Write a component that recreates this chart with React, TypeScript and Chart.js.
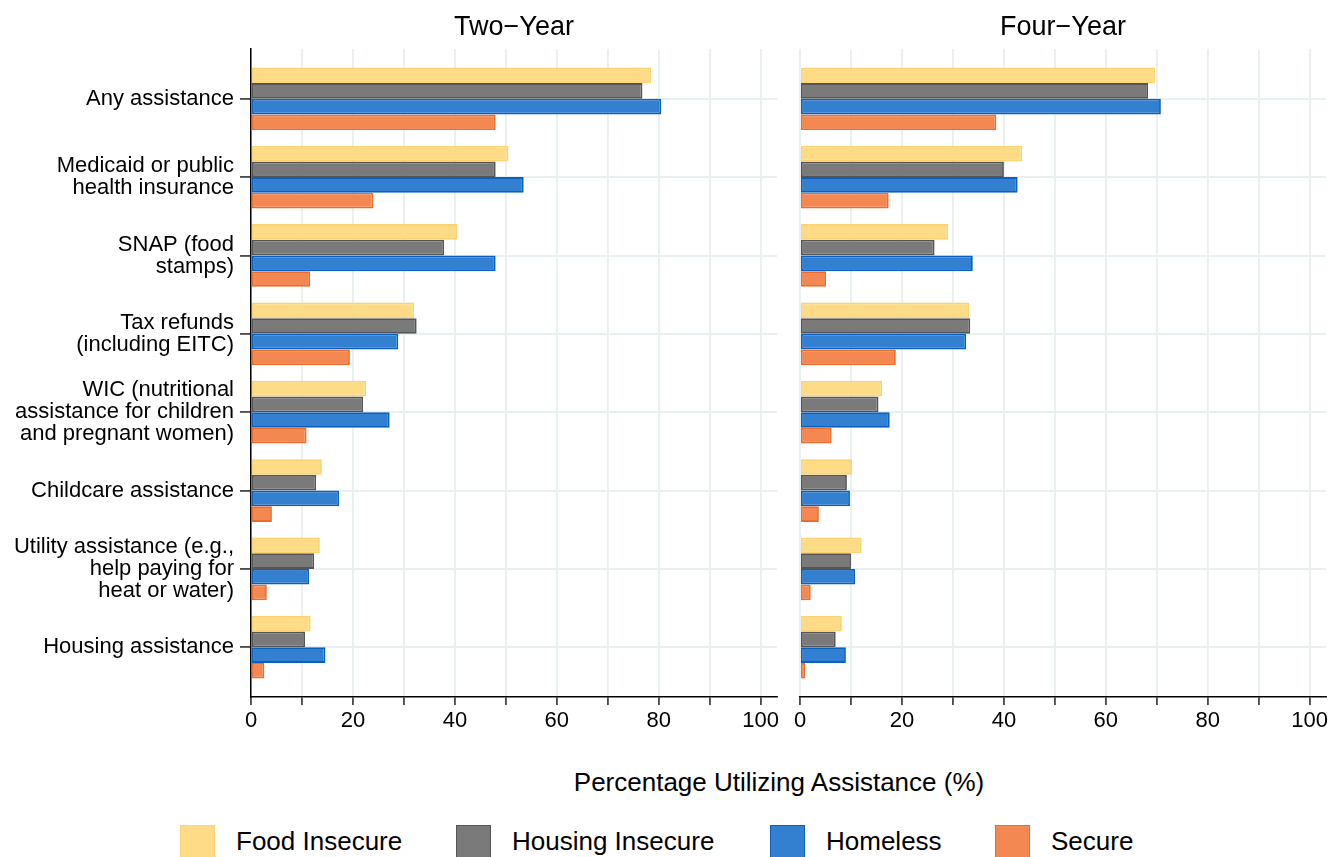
import React, { useEffect, useRef } from "react";
import { Chart, registerables } from "chart.js";

Chart.register(...registerables);

const FONT = '"Liberation Sans", Arial, Helvetica, sans-serif';

const categories: (string | string[])[] = [
  "Any assistance",
  ["Medicaid or public", "health insurance"],
  ["SNAP (food", "stamps)"],
  ["Tax refunds", "(including EITC)"],
  ["WIC (nutritional", "assistance for children", "and pregnant women)"],
  "Childcare assistance",
  ["Utility assistance (e.g.,", "help paying for", "heat or water)"],
  "Housing assistance",
];

const seriesNames = ["Food Insecure", "Housing Insecure", "Homeless", "Secure"];
const seriesFill = ["#FEDB86", "#7A7A7A", "#3380D0", "#F48853"];
const seriesBorder = ["#FCD272", "#555555", "#0A5FC2", "#EF6B2B"];

const twoYearFood = [78.5, 50.5, 40.5, 32.0, 22.6, 13.9, 13.5, 11.7];
const twoYearHousing = [76.8, 48.0, 37.9, 32.5, 22.0, 12.8, 12.4, 10.6];
const twoYearHomeless = [80.5, 53.5, 48.0, 28.9, 27.2, 17.3, 11.4, 14.6];
const twoYearSecure = [48.0, 24.0, 11.6, 19.4, 10.9, 4.1, 3.1, 2.6];

const fourYearFood = [69.7, 43.6, 29.1, 33.2, 16.1, 10.2, 12.1, 8.2];
const fourYearHousing = [68.3, 40.0, 26.4, 33.4, 15.4, 9.2, 10.0, 7.0];
const fourYearHomeless = [70.8, 42.7, 33.9, 32.6, 17.6, 9.8, 10.8, 9.0];
const fourYearSecure = [38.5, 17.4, 5.1, 18.8, 6.2, 3.7, 2.1, 1.0];

const xTickValues = [0, 10, 20, 30, 40, 50, 60, 70, 80, 90, 100];
const xLabelStep = 20;
const xAxisTitle = "Percentage Utilizing Assistance (%)";
const panelTitles = ["Two\u2212Year", "Four\u2212Year"];

const GRID = "#E9F0F2";

function makeConfig(
  title: string,
  series: number[][],
  showLabels: boolean,
  yWidth: number,
  padRight: number
): any {
  return {
    type: "bar",
    data: {
      datasets: series.map((vals, si) => ({
        label: seriesNames[si],
        data: vals.map((v, i) => ({ x: v, y: i })),
        backgroundColor: seriesFill[si],
        borderColor: seriesBorder[si],
        borderWidth: 1.8,
        borderSkipped: false,
        categoryPercentage: 0.8,
        barPercentage: 1.0,
      })),
    },
    options: {
      indexAxis: "y",
      animation: false,
      responsive: false,
      maintainAspectRatio: false,
      layout: { padding: { left: 0, right: padRight, top: 0, bottom: 0 } },
      plugins: {
        legend: { display: false },
        tooltip: { enabled: false },
        title: {
          display: true,
          text: title,
          fullSize: false,
          color: "#000",
          font: { family: FONT, size: 27, weight: "normal", lineHeight: 1.2 },
          padding: { top: 11, bottom: 5.6 },
        },
      },
      scales: {
        x: {
          type: "linear",
          min: 0,
          max: 103.2,
          afterBuildTicks: (scale: any) => {
            scale.ticks = xTickValues.map((v) => ({ value: v }));
          },
          afterFit: (scale: any) => {
            scale.height = 48;
          },
          ticks: {
            autoSkip: false,
            maxRotation: 0,
            color: "#000",
            padding: 3,
            font: { family: FONT, size: 22 },
            callback: (v: number) => (v % xLabelStep === 0 ? String(v) : ""),
          },
          grid: {
            color: GRID,
            lineWidth: 1.9,
            tickColor: "#000",
            tickLength: 8,
            tickWidth: 1.3,
          },
          border: { display: true, color: "#000", width: 1.5 },
        },
        y: {
          type: "linear",
          reverse: true,
          offset: false,
          min: -0.635,
          max: categories.length - 1 + 0.635,
          afterBuildTicks: (scale: any) => {
            scale.ticks = categories.map((_, i) => ({ value: i }));
          },
          afterFit: (scale: any) => {
            scale.width = yWidth;
          },
          ticks: {
            display: showLabels,
            autoSkip: false,
            color: "#000",
            padding: 6,
            font: { family: FONT, size: 22, lineHeight: 1.0 },
            callback: (v: number) => categories[v] as any,
          },
          grid: {
            offset: false,
            color: GRID,
            lineWidth: 1.9,
            tickColor: "#000",
            tickLength: showLabels ? 11 : 0,
            tickWidth: 1.3,
            drawTicks: showLabels,
          },
          border: { display: showLabels, color: "#000", width: 1.5 },
        },
      },
    },
  };
}

function Panel(props: {
  left: number;
  width: number;
  height: number;
  config: any;
}) {
  const ref = useRef<HTMLCanvasElement | null>(null);
  useEffect(() => {
    if (!ref.current) return;
    const chart = new Chart(ref.current, props.config);
    return () => chart.destroy();
  }, []);
  return (
    <canvas
      ref={ref}
      width={props.width}
      height={props.height}
      style={{
        position: "absolute",
        left: props.left,
        top: 0,
        width: props.width,
        height: props.height,
      }}
    />
  );
}

const legendLefts = [180, 456, 770, 995];

export default function App() {
  const leftCfg = makeConfig(
    panelTitles[0],
    [twoYearFood, twoYearHousing, twoYearHomeless, twoYearSecure],
    true,
    251,
    13
  );
  const rightCfg = makeConfig(
    panelTitles[1],
    [fourYearFood, fourYearHousing, fourYearHomeless, fourYearSecure],
    false,
    10,
    14
  );
  return (
    <div
      style={{
        position: "absolute",
        left: 0,
        top: 0,
        width: 1340,
        height: 857,
        background: "#fff",
        overflow: "hidden",
        fontFamily: FONT,
        color: "#000",
      }}
    >
      <Panel left={0} width={790} height={745} config={leftCfg} />
      <Panel left={790} width={550} height={745} config={rightCfg} />
      <div
        style={{
          position: "absolute",
          left: 0,
          width: 1558,
          top: 766,
          textAlign: "center",
          fontSize: 26,
          lineHeight: "32px",
          whiteSpace: "nowrap",
        }}
      >
        {xAxisTitle}
      </div>
      {seriesNames.map((name, i) => (
        <div
          key={name}
          style={{
            position: "absolute",
            left: legendLefts[i],
            top: 825,
            height: 33,
            display: "flex",
            alignItems: "center",
            whiteSpace: "nowrap",
          }}
        >
          <div
            style={{
              width: 35,
              height: 33,
              boxSizing: "border-box",
              background: seriesFill[i],
              border: `1.8px solid ${seriesBorder[i]}`,
            }}
          />
          <span style={{ marginLeft: 21, fontSize: 26, lineHeight: "33px" }}>
            {name}
          </span>
        </div>
      ))}
    </div>
  );
}
